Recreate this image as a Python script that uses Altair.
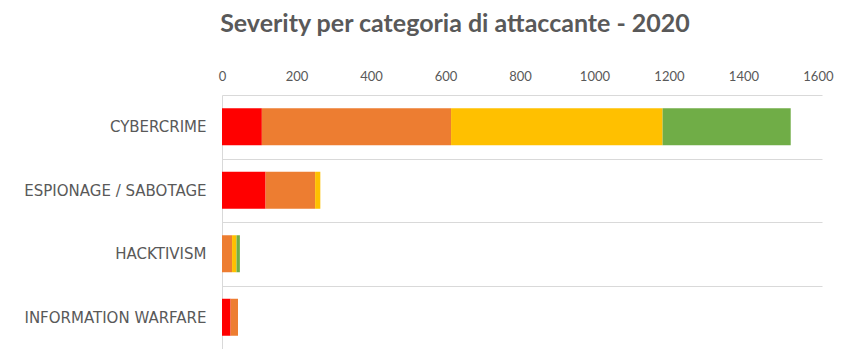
import altair as alt
import pandas as pd

categories = ["CYBERCRIME", "ESPIONAGE / SABOTAGE", "HACKTIVISM", "INFORMATION WARFARE"]
severities = ["Critical", "High", "Medium", "Low"]
colors = ["#FF0000", "#ED7D31", "#FFC000", "#70AD47"]

critical = [107, 117, 0, 23]
high = [508, 133, 27, 20]
medium = [568, 14, 12, 0]
low = [344, 0, 9, 0]

rows = []
series = [critical, high, medium, low]
for si, (sev, vals) in enumerate(zip(severities, series)):
    for cat, v in zip(categories, vals):
        rows.append({"categoria": cat, "severity": sev, "valore": v, "ordine": si})
df = pd.DataFrame(rows)

chart = alt.Chart(df).mark_bar(size=37).encode(
    y=alt.Y("categoria:N", sort=categories, title=None,
            scale=alt.Scale(paddingInner=0, paddingOuter=0),
            axis=alt.Axis(tickBand="extent", grid=True, gridColor="#D9D9D9",
                          domain=True, domainColor="#D9D9D9", ticks=False,
                          labelFont="DejaVu Sans", labelFontSize=15, labelLimit=260,
                          labelColor="#595959", labelPadding=16)),
    x=alt.X("valore:Q", stack="zero", title=None,
            scale=alt.Scale(domain=[0, 1611], nice=False),
            axis=alt.Axis(orient="top", values=list(range(0, 1601, 200)), format="d",
                          grid=False, domain=False, ticks=False, labelFlush=False,
                          labelOverlap=False,
                          labelFont="Lato", labelFontSize=13,
                          labelColor="#595959", labelPadding=12)),
    color=alt.Color("severity:N", sort=severities,
                    scale=alt.Scale(domain=severities, range=colors), legend=None),
    order=alt.Order("ordine:Q", sort="ascending"),
).properties(
    width=600,
    height=254,
    autosize="none",
    padding={"left": 222, "top": 95, "right": 23, "bottom": 0},
    title=alt.TitleParams("Severity per categoria di attaccante - 2020",
                          font="Lato", fontSize=25, fontWeight="bold",
                          color="#595959", anchor="middle", dx=-67, offset=33),
).configure_view(stroke=None)

chart.save("out.html", embed_options={"renderer": "svg", "actions": False})
